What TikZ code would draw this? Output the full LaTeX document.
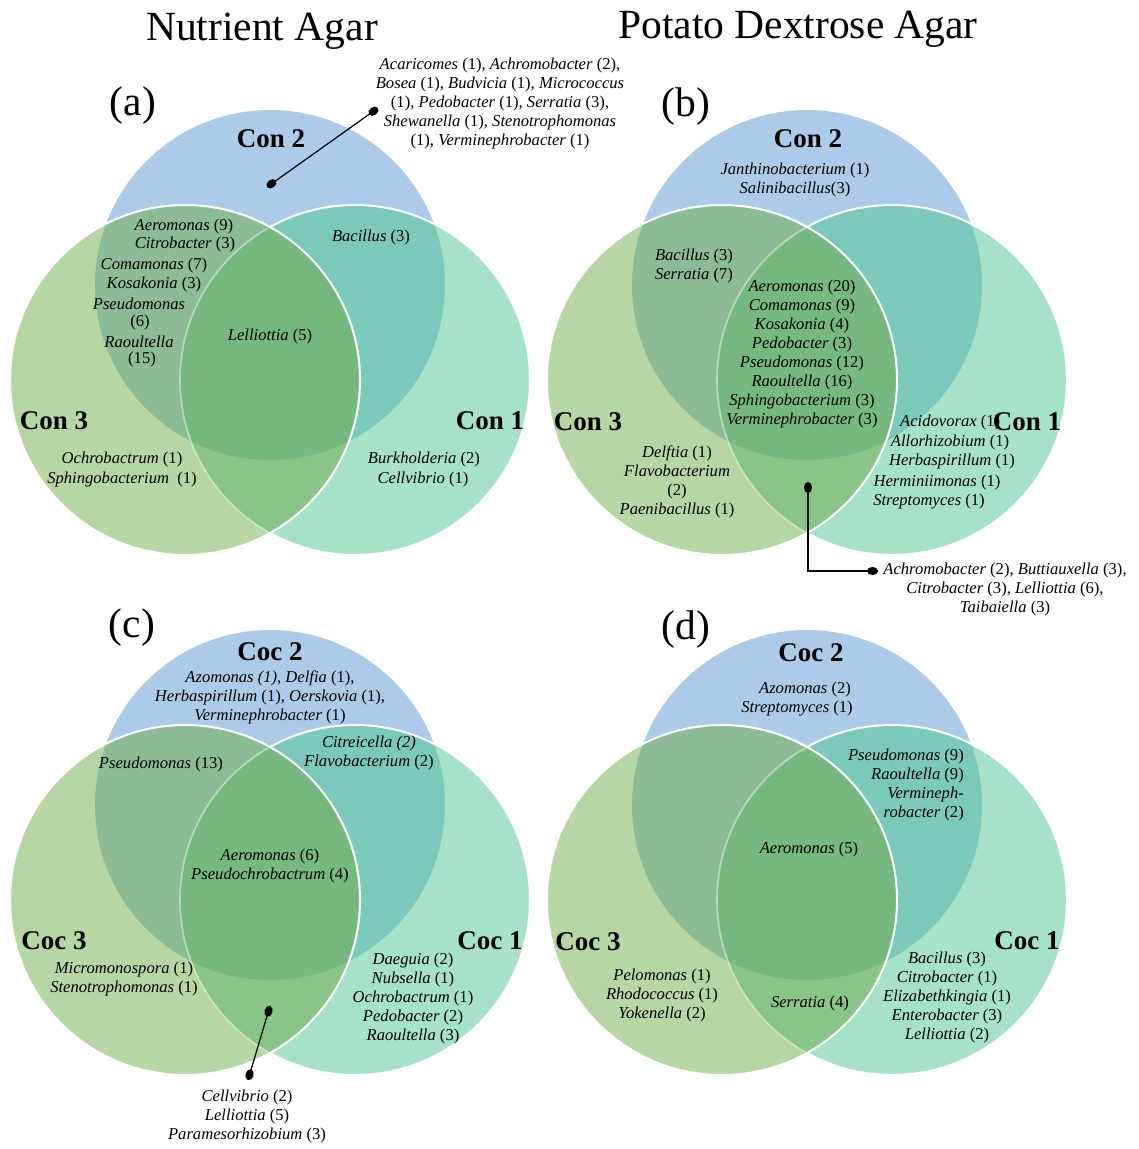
\documentclass[tikz,border=0pt]{standalone}
\usepackage{fontspec}
\setmainfont{Liberation Serif}
\usetikzlibrary{arrows.meta}
\definecolor{cA}{RGB}{172,203,233}
\definecolor{cB}{RGB}{182,214,163}
\definecolor{cC}{RGB}{166,226,199}
\definecolor{cAB}{RGB}{139,188,150}
\definecolor{cAC}{RGB}{122,201,186}
\definecolor{cBC}{RGB}{136,197,134}
\definecolor{cABC}{RGB}{118,185,126}
\newcommand\gnm[2]{\textit{#1} (#2)}
\newcommand\vennpanel[3]{%
  \coordinate (#1A) at (#2,#3-95);
  \coordinate (#1B) at (#2-85,#3);
  \coordinate (#1C) at (#2+85,#3);
  \fill[cA] (#1A) circle[radius=175pt];
  \fill[cB] (#1B) circle[radius=175pt];
  \fill[cC] (#1C) circle[radius=175pt];
  \begin{scope}
    \clip (#1A) circle[radius=175pt];
    \fill[cAB] (#1B) circle[radius=175pt];
    \fill[cAC] (#1C) circle[radius=175pt];
  \end{scope}
  \begin{scope}
    \clip (#1B) circle[radius=175pt];
    \fill[cBC] (#1C) circle[radius=175pt];
    \clip (#1A) circle[radius=175pt];
    \fill[cABC] (#1C) circle[radius=175pt];
  \end{scope}
  \begin{scope}[even odd rule]
    \clip (-20,-20) rectangle (1200,1200) (#1B) circle[radius=175pt];
    \draw[white, line width=2pt] (#1C) circle[radius=175pt];
  \end{scope}
  \begin{scope}
    \clip (#1B) circle[radius=175pt];
    \draw[white, opacity=0.45, line width=1.6pt] (#1C) circle[radius=175pt];
  \end{scope}
  \draw[white, line width=2pt] (#1B) circle[radius=175pt];
}
\tikzset{
  gen/.style={font=\fontsize{16.6}{19}\selectfont, inner sep=0pt, align=center},
  setlab/.style={font=\fontsize{27}{30}\selectfont\bfseries, inner sep=0pt},
  paneltag/.style={font=\fontsize{41.5}{45}\selectfont, inner sep=0pt},
  titletext/.style={font=\fontsize{41.5}{45}\selectfont, inner sep=0pt, anchor=base},
  callline/.style={line width=1.2pt, {Ellipse[length=11pt,width=8pt]}-{Ellipse[length=11pt,width=8pt]}},
}
\begin{document}
\begin{tikzpicture}[x=1pt,y=-1pt]
\useasboundingbox (0,0) rectangle (1139,1149);
\vennpanel{a}{270}{380}
\vennpanel{b}{807}{380}
\vennpanel{c}{270}{900}
\vennpanel{d}{807}{900}

% titles and tags
\node[titletext] (tNA) at (262,40) {Nutrient Agar};
\node[titletext] (tPDA) at (798,38) {Potato Dextrose Agar};
\node[paneltag] (tagA) at (133,106) {(a)};
\node[paneltag] (tagB) at (686,107) {(b)};
\node[paneltag] (tagC) at (132,628) {(c)};
\node[paneltag] (tagD) at (686,630) {(d)};

% ---------------- panel (a)
\node[setlab] (aL2) at (271,139) {Con 2};
\node[setlab] (aL3) at (54,421) {Con 3};
\node[setlab] (aL1) at (490,421) {Con 1};
\node[gen] (aCall) at (500,104) {\textit{Acaricomes} (1), \textit{Achromobacter} (2),\\ \textit{Bosea} (1), \textit{Budvicia} (1), \textit{Micrococcus}\\ (1), \textit{Pedobacter} (1), \textit{Serratia} (3),\\ \textit{Shewanella} (1), \textit{Stenotrophomonas}\\ (1), \textit{Verminephrobacter} (1)};
\coordinate (aD1) at (267,187);
\coordinate (aD2) at (378,108);
\draw[callline] (aD1) -- (aD2);
\node[gen] (aS1) at (184,227) {\gnm{Aeromonas}{9}};
\node[gen] (aS2) at (185,245) {\gnm{Citrobacter}{3}};
\node[gen] (aS3) at (154,266) {\gnm{Comamonas}{7}};
\node[gen] (aS4) at (154,285) {\gnm{Kosakonia}{3}};
\node[gen] (aS5) at (139,304) {\textit{Pseudomonas}};
\node[gen] (aS6) at (140,323) {(6)};
\node[gen] (aS7) at (139,342) {\textit{Raoultella}};
\node[gen] (aS8) at (142,360) {(15)};
\node[gen] (aS9) at (270,337) {\gnm{Lelliottia}{5}};
\node[gen] (aS10) at (371,238) {\gnm{Bacillus}{3}};
\node[gen] (aS11) at (122,460) {\gnm{Ochrobactrum}{1}};
\node[gen] (aS12) at (122,479) {\textit{Sphingobacterium}\ \ (1)};
\node[gen] (aS13) at (424,460) {\gnm{Burkholderia}{2}};
\node[gen] (aS14) at (423,479) {\gnm{Cellvibrio}{1}};

% ---------------- panel (b)
\node[setlab] (bL2) at (808,139) {Con 2};
\node[setlab] (bL3) at (588,422) {Con 3};
\node[gen] (bS1) at (795,180) {\gnm{Janthinobacterium}{1}\\ \textit{Salinibacillus}(3)};
\node[gen] (bS2) at (694,266.5) {\gnm{Bacillus}{3}\\ \gnm{Serratia}{7}};
\node[gen] (bS3) at (802,354) {\gnm{Aeromonas}{20}\\ \gnm{Comamonas}{9}\\ \gnm{Kosakonia}{4}\\ \gnm{Pedobacter}{3}\\ \gnm{Pseudomonas}{12}\\ \gnm{Raoultella}{16}\\ \gnm{Sphingobacterium}{3}\\ \gnm{Verminephrobacter}{3}};
\node[gen] (bS4) at (677,482) {\gnm{Delftia}{1}\\ \textit{Flavobacterium}\\ (2)\\ \gnm{Paenibacillus}{1}};
\node[gen, anchor=west] (bS5) at (900,423) {\gnm{Acidovorax}{1}};
\node[setlab] (bL1) at (1027,422) {Con 1};
\node[gen] (bS6) at (950,443) {\gnm{Allorhizobium}{1}};
\node[gen] (bS7) at (952,462) {\gnm{Herbaspirillum}{1}};
\node[gen] (bS8) at (937,482) {\gnm{Herminiimonas}{1}};
\node[gen] (bS9) at (929,502) {\gnm{Streptomyces}{1}};
\coordinate (bD1) at (808,482);
\coordinate (bD2) at (878,571);
\draw[callline] (bD1) |- (bD2);
\node[gen] (bCall) at (1005,589) {\textit{Achromobacter} (2), \textit{Buttiauxella} (3),\\ \textit{Citrobacter} (3), \textit{Lelliottia} (6),\\ \textit{Taibaiella} (3)};

% ---------------- panel (c)
\node[setlab] (cL2) at (270,652) {Coc 2};
\node[setlab] (cL3) at (54,941) {Coc 3};
\node[setlab] (cL1) at (490,941) {Coc 1};
\node[gen] (cS1) at (270,697) {\textit{Azomonas (1)}, \gnm{Delfia}{1},\\ \gnm{Herbaspirillum}{1}, \gnm{Oerskovia}{1},\\ \gnm{Verminephrobacter}{1}};
\node[gen] (cS2) at (369,753) {\textit{Citreicella (2)}\\ \gnm{Flavobacterium}{2}};
\node[gen] (cS3) at (161,764) {\gnm{Pseudomonas}{13}};
\node[gen] (cS4) at (270,866) {\gnm{Aeromonas}{6}\\ \gnm{Pseudochrobactrum}{4}};
\node[gen] (cS5) at (124,979) {\gnm{Micromonospora}{1}\\ \gnm{Stenotrophomonas}{1}};
\node[gen] (cS6) at (413,998) {\gnm{Daeguia}{2}\\ \gnm{Nubsella}{1}\\ \gnm{Ochrobactrum}{1}\\ \gnm{Pedobacter}{2}\\ \gnm{Raoultella}{3}};
\coordinate (cD1) at (270,1006);
\coordinate (cD2) at (248,1080);
\draw[callline] (cD1) -- (cD2);
\node[gen] (cCall) at (247,1116) {\gnm{Cellvibrio}{2}\\ \gnm{Lelliottia}{5}\\ \gnm{Paramesorhizobium}{3}};

% ---------------- panel (d)
\node[setlab] (dL2) at (811,653) {Coc 2};
\node[setlab] (dL3) at (588,942) {Coc 3};
\node[setlab] (dL1) at (1027,941) {Coc 1};
\node[gen] (dS1) at (805,689) {\gnm{Azomonas}{2}};
\node[gen] (dS2) at (797,709) {\gnm{Streptomyces}{1}};
\node[gen, align=right, anchor=east] (dS3) at (964,784.5) {\gnm{Pseudomonas}{9}\\ \gnm{Raoultella}{9}\\ \textit{Vermineph-}\\ \textit{robacter} (2)};
\node[gen] (dS4) at (809,849) {\gnm{Aeromonas}{5}};
\node[gen] (dS5) at (662,995) {\gnm{Pelomonas}{1}\\ \gnm{Rhodococcus}{1}\\ \gnm{Yokenella}{2}};
\node[gen] (dS6) at (810,1003) {\gnm{Serratia}{4}};
\node[gen] (dS7) at (947,997) {\gnm{Bacillus}{3}\\ \gnm{Citrobacter}{1}\\ \gnm{Elizabethkingia}{1}\\ \gnm{Enterobacter}{3}\\ \gnm{Lelliottia}{2}};
\end{tikzpicture}
\end{document}
